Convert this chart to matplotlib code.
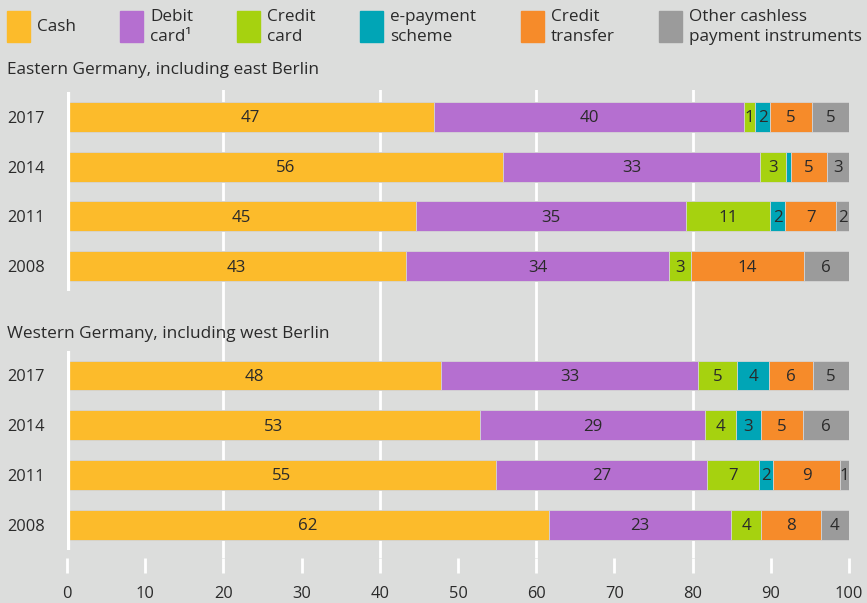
import matplotlib
matplotlib.use("Agg")
import matplotlib.pyplot as plt
from matplotlib.patches import Rectangle
import numpy as np

plt.rcParams['font.family'] = ['Open Sans', 'DejaVu Sans']

# ---- data (shares in percent) ----
years = ['2017', '2014', '2011', '2008']
categories = ['Cash', 'Debit\ncard\u00b9', 'Credit\ncard', 'e-payment\nscheme',
              'Credit\ntransfer', 'Other cashless\npayment instruments']
colors = ['#FCBB2B', '#B56FD0', '#A6D20F', '#00A5B6', '#F68B2A', '#9B9B9B']

east_cash = [46.9, 55.8, 44.6, 43.4]
east_debit = [39.7, 32.8, 34.6, 33.6]
east_credit = [1.4, 3.4, 10.7, 2.8]
east_epay = [1.9, 0.6, 1.9, 0.0]
east_transfer = [5.4, 4.6, 6.6, 14.4]
east_other = [4.7, 2.8, 1.6, 5.8]

west_cash = [47.8, 52.8, 54.9, 61.6]
west_debit = [32.9, 28.8, 27.0, 23.3]
west_credit = [5.0, 3.9, 6.6, 3.9]
west_epay = [4.1, 3.2, 1.8, 0.0]
west_transfer = [5.6, 5.4, 8.6, 7.6]
west_other = [4.6, 5.9, 1.1, 3.6]

groups = [
    ('Eastern Germany, including east Berlin',
     [east_cash, east_debit, east_credit, east_epay, east_transfer, east_other]),
    ('Western Germany, including west Berlin',
     [west_cash, west_debit, west_credit, west_epay, west_transfer, west_other]),
]
title_offsets = [-0.95, -0.83]

BG = '#DCDDDC'
TXT = '#2a2a2a'
W, H = 867, 603

fig = plt.figure(figsize=(W / 100, H / 100), dpi=100, facecolor=BG)

# axes area in pixel terms
left_px, right_px, top_px, bottom_px = 67, 849, 90, 558
ax = fig.add_axes([left_px / W, 1 - bottom_px / H,
                   (right_px - left_px) / W, (bottom_px - top_px) / H])
ax.set_facecolor(BG)

group_gap = 5.2          # offset of the second block in bar-slot units
bar_h = 0.6
ax.set_xlim(0, 100)
ax.set_ylim(8.87, -0.54)

for gi, (title, series) in enumerate(groups):
    ypos = np.arange(len(years)) + gi * group_gap
    base = np.zeros(len(years))
    for vals, col in zip(series, colors):
        vals = np.asarray(vals, dtype=float)
        ax.barh(ypos, vals, left=base, height=bar_h, color=col,
                edgecolor='#d4d4d4', linewidth=0.6, zorder=2)
        for y, b, v in zip(ypos, base, vals):
            if v >= 1:
                ax.text(b + v / 2, y + 0.03, f'{round(v)}', ha='center',
                        va='center', fontsize=12.2, color=TXT, zorder=4)
        base += vals
    # year labels
    for y, yr in zip(ypos, years):
        ax.text(-7.7, y + 0.04, yr, ha='left', va='center', fontsize=11.8,
                color=TXT, clip_on=False)
    # white baseline at 0
    ax.vlines(0, ypos[0] - 0.5, ypos[-1] + 0.5, color='white',
              linewidth=4.5, zorder=3)
    # block title
    ax.text(-7.7, ypos[0] + title_offsets[gi], title, ha='left', va='center',
            fontsize=12.4, color=TXT, clip_on=False)

# vertical white grid lines
for gx in [20, 40, 60, 80]:
    ax.axvline(gx, color='white', linewidth=2, zorder=1)

for s in ax.spines.values():
    s.set_visible(False)
ax.set_yticks([])
ax.set_xticks(np.arange(0, 101, 10))
ax.tick_params(axis='x', colors='white', length=11, width=2, direction='out',
               pad=9, labelcolor=TXT, labelsize=11.8)
for t in ax.xaxis.get_ticklines():
    t.set_markeredgecolor('white')

# legend row
leg_x = [7, 120, 237, 360, 521, 659]
for x, lab, col in zip(leg_x, categories, colors):
    fig.patches.append(Rectangle((x / W, 1 - 42 / H), 23 / W, 31 / H,
                                 transform=fig.transFigure, color=col))
    fig.text((x + 30) / W, 1 - 27 / H, lab, ha='left', va='center',
             fontsize=12.3, color=TXT, linespacing=1.3)

fig.savefig('out.png', dpi=100, facecolor=BG)
